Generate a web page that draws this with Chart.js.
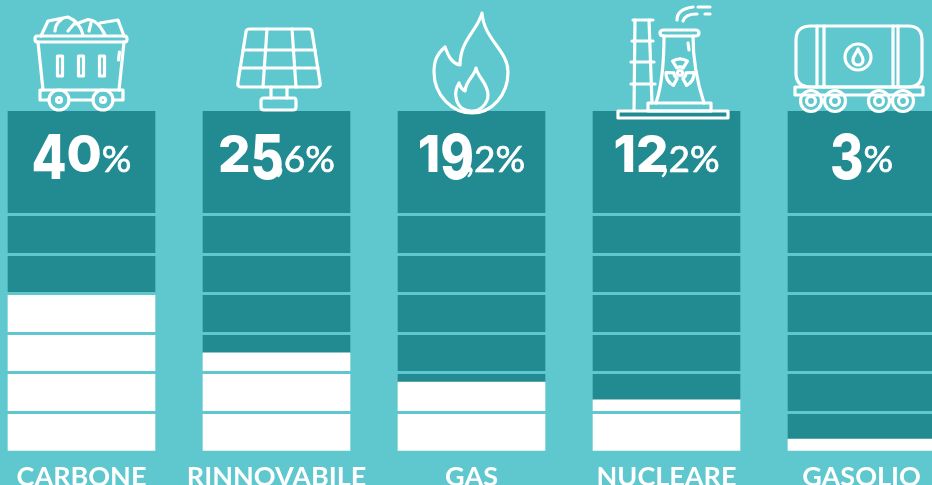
<!DOCTYPE html>
<html>
<head>
<meta charset="utf-8">
<title>Mix energetico</title>
<script src="https://cdn.jsdelivr.net/npm/chart.js@4"></script>
<style>
    html, body { margin: 0; width: 932px; height: 485px; overflow: hidden; background: #5fc8cf; }
    #chart-box { position: absolute; left: -16px; top: 0; width: 975px; height: 485px; }
</style>
</head>
<body>
<div id="chart-box"><canvas id="energy-chart" width="975" height="485"></canvas></div>
<script>
const categories = ['CARBONE', 'RINNOVABILE', 'GAS', 'NUCLEARE', 'GASOLIO'];
const filledValues = [40, 25.1, 17.7, 13.2, 3.3];   // white part
const restValues = [46.3, 61.2, 68.6, 73.1, 83];    // teal part up to the top of the column
const bigLabels = ['40', '25', '19', '12', '3'];
const smallLabels = ['%', ',6%', ',2%', ',2%', '%'];

const TEAL = '#228b92';
const BACKGROUND = '#5fc8cf';
const ICON_SHIFT = 16; // canvas starts 16px left of the page

function circle(cx, cy, r) {
    return `M${cx - r} ${cy}a${r} ${r} 0 1 0 ${r * 2} 0a${r} ${r} 0 1 0 ${-r * 2} 0Z`;
}

function radiationBlade(cx, cy, angle) {
    const a1 = (angle - 32) * Math.PI / 180;
    const a2 = (angle + 32) * Math.PI / 180;
    const pt = (r, a) => `${(cx + r * Math.cos(a)).toFixed(1)} ${(cy + r * Math.sin(a)).toFixed(1)}`;
    return `M${pt(6, a1)}L${pt(14, a1)}A14 14 0 0 1 ${pt(14, a2)}L${pt(6, a2)}A6 6 0 0 0 ${pt(6, a1)}Z`;
}

// line icons above the columns, page coordinates
const iconPaths = [
    // coal wagon
    'M37 36H125Q127 36 127 39T125 42H37Q35 42 35 39T37 36Z',
    'M38 42L43 90M124 42L119 90',
    'M40 90H123V100H113M40 90V100H49M69 100H93',
    circle(59, 100, 10), circle(59, 100, 2.5), circle(103, 100, 10), circle(103, 100, 2.5),
    'M57.5 56H62.5V76H57.5ZM78.5 56H83.5V76H78.5ZM99.5 56H104.5V76H99.5Z',
    'M119.5 52L118.5 60',
    'M41 36L48 21L68 17Q80 22 83 35M76 24L88 19.5Q98 20 105 35M100 23L118 20L124 36',
    'M55 31Q55 24 62 19M68 31L74 24M89 31L91 23',
    // solar panel
    'M250 29H309Q312 29 312 32L320 82Q321 87 317 87H241Q237 87 238 82L246 32Q246 29 250 29Z',
    'M243 50H315M240 68H318M267 29L263 87M292 29L296 87',
    'M271 87V98M287 87V98',
    'M264 98H294Q296 98 296 101V107Q296 110 293 110H264Q261 110 261 107V101Q261 98 264 98Z',
    // flame
    'M482 13C478 30 460 40 460 65C451 63 448 55 445 47C436 55 434 62 434 72C434 95 452 113 472 113C492 113 508 95 508 72C508 50 484 40 482 13Z',
    'M476 68C474 77 466 80 465 91C461 89 460 86 459 83C456 88 455 92 456 97C457 105 462 111 472 111C481 111 488 103 488 95C488 83 478 78 476 68Z',
    // nuclear plant
    'M635 20L634 110M649 20L652 103',
    'M633 20H653M632 41H653M631 62H654M631 84H655',
    'M664 30H695Q699 30 699 33T695 36H664Q660 36 660 33T664 30Z',
    'M664 36C664 60 662 85 656 103M693 36C693 60 698 85 704 103',
    'M648 103H711V111H648Z', 'M618 111H728V118H618Z',
    'M688 43L689 50',
    radiationBlade(680, 73, -90), radiationBlade(680, 73, 30), radiationBlade(680, 73, 150), circle(680, 73, 2.5),
    'M677 20Q677 9 693 7M683 21Q685 14 697 14M698 7H710M705 14H710',
    // tank wagon
    'M811 26H908Q922 26 922 40V73Q922 87 908 87H811Q796 87 796 73V40Q796 26 811 26Z',
    'M817 26V87M824 26V87M893 26V87M898 26V87',
    circle(858, 57, 13),
    'M858 49C856 54 853 56 853 60C853 63 855 65 858 65C861 65 863 63 863 60C863 56 860 54 858 49Z',
    'M795 87H923V95H795Z',
    circle(811, 101, 10.5), circle(811, 101, 4.5), circle(835, 101, 10.5), circle(835, 101, 4.5),
    circle(879, 101, 10.5), circle(879, 101, 4.5), circle(903, 101, 10.5), circle(903, 101, 4.5)
];

// big numbers use old style figures: these ones hang below the line
const HANGING = '3459';

const percentLabels = {
    id: 'percentLabels',
    afterDatasetsDraw(chart) {
        const ctx = chart.ctx;
        const bars = chart.getDatasetMeta(0).data;
        const baseline = chart.chartArea.top + 61;
        const bigFont = '800 51px Inter';
        const smallFont = '400 37px Lato';
        ctx.save();
        ctx.fillStyle = '#fff';
        ctx.strokeStyle = '#fff';
        ctx.lineJoin = 'round';
        ctx.textAlign = 'left';
        ctx.textBaseline = 'alphabetic';
        bars.forEach((bar, i) => {
            const small = smallLabels[i];
            ctx.font = smallFont;
            // the comma sits tucked under the last big digit
            const commaWidth = small[0] === ',' ? ctx.measureText(',').width : 0;
            const smallWidth = ctx.measureText(small).width - commaWidth;
            ctx.font = bigFont;
            const bigWidth = ctx.measureText(bigLabels[i]).width;
            let x = bar.x - (bigWidth + smallWidth) / 2;
            for (const digit of bigLabels[i]) {
                // keep the top of the digit on the line of the others, stretch it downwards
                const cap = 37;
                const stretch = HANGING.includes(digit) ? 1.2 : 1;
                ctx.save();
                ctx.translate(x, baseline - cap);
                ctx.scale(1, stretch);
                ctx.fillText(digit, 0, cap);
                ctx.restore();
                x += ctx.measureText(digit).width;
            }
            ctx.font = smallFont;
            ctx.lineWidth = 0.7;
            ctx.fillText(small, x - commaWidth, baseline);
            ctx.strokeText(small, x - commaWidth, baseline);
        });
        ctx.restore();
    }
};

const lineIcons = {
    id: 'lineIcons',
    afterDraw(chart) {
        const ctx = chart.ctx;
        ctx.save();
        ctx.translate(ICON_SHIFT, 0);
        ctx.strokeStyle = '#fff';
        ctx.lineWidth = 3.2;
        ctx.lineJoin = 'round';
        ctx.lineCap = 'round';
        iconPaths.forEach(d => ctx.stroke(new Path2D(d)));
        ctx.restore();
    }
};

const ctx = document.getElementById('energy-chart').getContext('2d');

new Chart(ctx, {
    type: 'bar',
    data: {
        labels: categories,
        datasets: [
            { label: 'Quota', data: filledValues, backgroundColor: '#fff', barThickness: 147 },
            { label: 'Resto', data: restValues, backgroundColor: TEAL, barThickness: 147 }
        ]
    },
    options: {
        responsive: false,
        animation: false,
        layout: { padding: { top: 111, left: 0, right: 0, bottom: 0 } },
        plugins: { legend: { display: false }, title: { display: false }, tooltip: { enabled: false } },
        scales: {
            x: {
                stacked: true,
                grid: { display: false },
                border: { display: false },
                afterFit: scale => { scale.height = 33; },
                ticks: {
                    color: '#fff',
                    font: { family: 'Lato', size: 27, weight: '700' },
                    padding: 1,
                    autoSkip: false,
                    maxRotation: 0
                }
            },
            y: {
                stacked: true,
                min: 0,
                max: 86.3,
                border: { display: false },
                afterFit: scale => { scale.width = 0; },
                ticks: { display: false, stepSize: 10, includeBounds: false },
                grid: {
                    z: 1,
                    drawTicks: false,
                    lineWidth: 3,
                    // separators only between the ten point rows
                    color: c => (c.tick.value > 0 && c.tick.value <= 60 ? BACKGROUND : 'transparent')
                }
            }
        }
    },
    plugins: [percentLabels, lineIcons]
});
</script>
</body>
</html>
